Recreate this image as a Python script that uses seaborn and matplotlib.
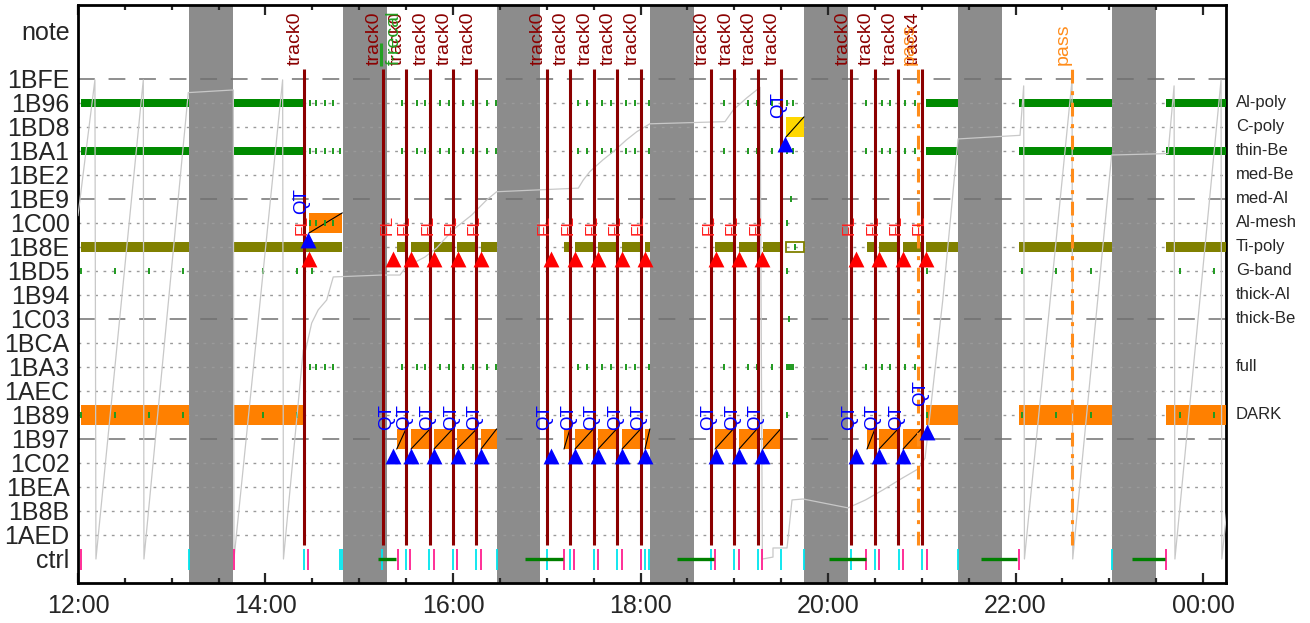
import numpy as np
import pandas as pd
import matplotlib
matplotlib.use("Agg")
import matplotlib.pyplot as plt
from matplotlib.patches import Rectangle
import seaborn as sns

# rows, bottom to top (note row sits above them)
rows = ["ctrl", "1AED", "1B8B", "1BEA", "1C02", "1B97", "1B89", "1AEC", "1BA3",
        "1BCA", "1C03", "1B94", "1BD5", "1B8E", "1C00", "1BE9", "1BE2", "1BA1",
        "1BD8", "1B96", "1BFE"]
filter_rows = ["1B96", "1BD8", "1BA1", "1BE2", "1BE9", "1C00", "1B8E", "1BD5",
               "1B94", "1C03", "1BA3", "1B89"]
filter_names = ["Al-poly", "C-poly", "thin-Be", "med-Be", "med-Al", "Al-mesh",
                "Ti-poly", "G-band", "thick-Al", "thick-Be", "full", "DARK"]

# time in hours
shadow_start = [13.184, 14.827, 16.470, 18.100, 19.744, 21.387, 23.030]
shadow_end = [13.650, 15.293, 16.933, 18.570, 20.210, 21.853, 23.496]

track_t = [14.41, 15.25, 15.50, 15.75, 16.00, 16.25, 17.00, 17.25, 17.50, 17.75,
           18.00, 18.75, 19.00, 19.25, 19.50, 20.25, 20.50, 20.75, 21.00]
track_lbl = ["track0"] * 18 + ["track4"]
pass_t = [20.955, 22.60]
recal_t = [15.237]

fl_t = [14.464, 15.363, 15.549, 15.800, 16.050, 16.300, 17.045, 17.300, 17.550,
        17.800, 18.048, 18.800, 19.050, 19.300, 20.297, 20.547, 20.798, 21.045]
qt_t = [14.456, 15.363, 15.549, 15.800, 16.050, 16.300, 17.045, 17.300, 17.550,
        17.800, 18.048, 18.800, 19.050, 19.300, 19.540, 20.297, 20.547, 20.798, 21.055]
qt_row = ["1B8E"] + ["1C02"] * 13 + ["1BA1"] + ["1C02"] * 3 + ["1B97"]

box_start = [14.464, 15.400, 15.552, 15.797, 16.043, 16.299, 17.184, 17.301, 17.547,
             17.803, 18.048, 18.795, 19.051, 19.303, 19.552, 20.416, 20.544, 20.800]
box_end = [14.820, 15.499, 15.755, 15.997, 16.253, 16.466, 17.248, 17.497, 17.746,
           18.002, 18.100, 18.990, 19.243, 19.495, 19.744, 20.501, 20.747, 20.996]
box_row = ["1C00"] + ["1B97"] * 13 + ["1BD8"] + ["1B97"] * 3
box_color = ["#ff8000"] * 14 + ["#ffd700"] + ["#ff8000"] * 3

dense_start = [12.03, 13.667, 21.05, 22.04, 23.61]
dense_end = [13.184, 14.42, 21.387, 23.03, 24.245]

ti_start = [12.03, 13.667, 15.400, 15.552, 15.797, 16.043, 16.299, 17.184, 17.301,
            17.547, 17.803, 18.048, 18.795, 19.051, 19.303, 20.416, 20.544, 20.800,
            21.05, 22.04, 23.61]
ti_end = [13.184, 14.82, 15.499, 15.755, 15.997, 16.253, 16.466, 17.248, 17.497,
          17.746, 18.002, 18.100, 18.990, 19.243, 19.495, 20.501, 20.747, 20.996,
          21.387, 23.03, 24.245]
ti_empty_start = [19.552]
ti_empty_end = [19.744]

sparse_t = [14.475, 14.54, 14.63, 14.716,
            15.452, 15.612, 15.70, 15.86, 15.96, 16.109, 16.21, 16.36, 16.455,
            17.337, 17.433, 17.586, 17.682, 17.842, 17.941, 18.094,
            18.894, 18.997, 19.15, 19.246, 19.40, 19.56, 19.63,
            20.405, 20.573, 20.661, 20.821, 20.928]
gband_t = [12.03, 12.395, 12.757, 13.12, 13.973, 14.336, 19.566,
           21.056, 22.07, 22.436, 22.80, 23.757, 24.113]
misc_t = [14.496, 14.80, 14.475, 14.54, 14.63, 14.716, 19.566, 19.605, 19.58,
          19.65, 19.58, 19.60]
misc_row = ["1BD5", "1BA1", "1C00", "1C00", "1C00", "1C00", "1C00", "1BE9", "1C03",
            "1B8E", "1BA3", "1BA3"]

ctrl_cyan = [13.184, 14.41, 14.795, 14.82, 15.246, 15.495, 15.744, 15.997, 16.245,
             16.466, 17.0, 17.248, 17.504, 17.746, 18.048, 18.094, 18.749, 18.997,
             19.25, 19.499, 19.744, 20.249, 20.505, 20.754, 21.0, 21.384, 23.026]
ctrl_pink = [12.032, 13.664, 14.457, 15.41, 15.541, 15.797, 16.04, 16.295, 17.188,
             17.294, 17.55, 17.8, 18.0, 18.795, 19.047, 19.3, 20.41, 20.547, 20.797,
             21.053, 22.034, 23.605]
ctrl_green_start = [15.203, 16.768, 18.389, 20.014, 21.632, 23.246]
ctrl_green_end = [15.389, 17.17, 18.781, 20.405, 22.013, 23.595]

# pointer trace (row units, 0 = ctrl, 20 = 1BFE)
ptr_t = [12.0, 12.181, 12.192, 12.697, 12.704, 13.177, 13.657, 13.664, 14.183, 14.192,
         14.403, 14.429, 14.493, 14.563, 14.653, 14.723, 15.24,
         15.435, 15.499, 15.701, 15.826, 16.0, 16.2, 16.36, 16.466,
         17.337, 17.39, 17.46, 17.60, 17.71, 17.85, 17.96, 18.10,
         18.901, 18.99, 19.13, 19.275, 19.30,
         19.413, 19.413, 19.563, 19.616, 19.733,
         20.213, 20.40, 20.587, 20.775, 20.96, 21.035,
         21.224, 21.387, 22.048, 22.087, 22.095,
         22.603, 22.61, 23.025, 23.627, 23.691, 23.70,
         24.192, 24.2, 24.252]
ptr_v = [14.3, 19.96, 0.0, 19.96, 0.0, 19.43, 19.54, 0.0, 19.96, 0.0,
         8.71, 8.71, 9.83, 10.38, 10.79, 11.75, 11.83,
         11.83, 12.17, 12.58, 12.96, 13.71, 14.33, 14.96, 15.3,
         15.45, 15.79, 16.14, 16.63, 16.97, 17.46, 17.8, 18.13,
         18.22, 18.71, 19.2, 19.65, 0.0,
         0.08, 0.46, 0.46, 2.46, 2.5,
         2.13, 2.46, 2.88, 3.33, 3.75, 4.2,
         10.79, 17.5, 17.65, 19.71, 0.0,
         19.96, 0.0, 16.83, 16.89, 19.71, 0.0,
         19.96, 0.0, 1.97]

sns.set_style("ticks")
plt.rcParams["font.family"] = ["Liberation Sans", "DejaVu Sans"]

DARKRED = "#8b0000"
GREEN = "#008a00"
y = {r: i for i, r in enumerate(rows)}
note_y = len(rows) + 1

fig = plt.figure(figsize=(13.1, 6.23), dpi=100)
ax = fig.add_axes([0.0595, 0.0642, 0.8764, 0.9278])

# shaded bands
for s, e in zip(shadow_start, shadow_end):
    ax.axvspan(s, e, color="#8c8c8c", lw=0, zorder=0)

# row grid
for i in range(1, len(rows)):
    if i % 5 == 0:
        ax.axhline(i, color="#707070", lw=1.1, dashes=(11, 9), zorder=1)
    else:
        ax.axhline(i, color="#9a9a9a", lw=1.0, dashes=(2, 4), zorder=1)


def bars(row, starts, ends, h, color):
    spans = [(s, e - s) for s, e in zip(starts, ends)]
    ax.broken_barh(spans, (y[row] - h / 2, h), facecolors=color, lw=0, zorder=3)


bars("1B96", dense_start, dense_end, 0.32, GREEN)
bars("1BA1", dense_start, dense_end, 0.32, GREEN)
bars("1B89", dense_start, dense_end, 0.83, "#ff8000")
bars("1B8E", ti_start, ti_end, 0.42, "#808000")
for s, e in zip(ti_empty_start, ti_empty_end):
    ax.add_patch(Rectangle((s, y["1B8E"] - 0.21), e - s, 0.42, fill=False,
                           edgecolor="#808000", lw=1.3, zorder=3))

# calibration boxes with diagonal
for s, e, r, c in zip(box_start, box_end, box_row, box_color):
    b = y[r] - 0.42
    ax.add_patch(Rectangle((s, b), e - s, 0.84, facecolor=c, lw=0, zorder=3))
    ax.plot([s, e], [b, b + 0.84], color="black", lw=0.8, zorder=3.2)

# sparse filter ticks
tk = dict(marker="|", s=22, linewidth=1.4, color="#1f9a1f", ax=ax, zorder=3.5, legend=False)
for r in ["1B96", "1BA1", "1BA3"]:
    sns.scatterplot(x=sparse_t, y=[y[r]] * len(sparse_t), **tk)
for r in ["1BD5", "1B89"]:
    sns.scatterplot(x=gband_t, y=[y[r]] * len(gband_t), **tk)
sns.scatterplot(x=misc_t, y=[y[r] for r in misc_row], **tk)

# pointer trace
sns.lineplot(x=ptr_t, y=ptr_v, sort=False, estimator=None, color="#c8c8c8",
             lw=0.9, ax=ax, zorder=4)

# ctrl row
ax.vlines(ctrl_cyan, -0.45, 0.4, color="#00e5ee", lw=1.3, zorder=4)
ax.vlines(ctrl_pink, -0.45, 0.4, color="#ff1f8f", lw=1.3, zorder=4)
ax.hlines([0] * len(ctrl_green_start), ctrl_green_start, ctrl_green_end,
          color="#008000", lw=2.4, zorder=4)

# track / pass lines with note labels
ax.vlines(track_t, 0.58, 20.42, color=DARKRED, lw=2.2, zorder=5)
for t, lbl in zip(track_t, track_lbl):
    ax.text(t, 20.58, lbl, rotation=90, ha="right", va="bottom", color=DARKRED,
            fontsize=14, zorder=7)
ax.vlines(pass_t, 0.58, 20.42, color="#ff8c1a", lw=2.2,
          linestyles=[(0, (4.5, 2.5, 1.3, 2.5))], zorder=5.5)
for t in pass_t:
    ax.text(t, 20.58, "pass", rotation=90, ha="right", va="bottom", color="#ff8c1a",
            fontsize=14, zorder=7)
ax.vlines(recal_t, 20.54, 21.5, color="#22a022", lw=2.2, zorder=5)
for t in recal_t:
    ax.annotate("f-recal", (t, 20.58), xytext=(3, 0), textcoords="offset points",
                rotation=90, ha="left", va="bottom", color="#22a022", fontsize=14, zorder=7)

# markers and their labels
sns.scatterplot(x=fl_t, y=[y["1BD5"] + 0.5] * len(fl_t), marker="^", s=130,
                color="#ff0000", linewidth=0, ax=ax, zorder=6, legend=False)
sns.scatterplot(x=qt_t, y=[y[r] + 0.3 for r in qt_row], marker="^", s=130,
                color="#0000ff", linewidth=0, ax=ax, zorder=6, legend=False)
for t in fl_t:
    ax.annotate("FL", (t, y["1BD5"] + 1.9), xytext=(-4.7, 0), textcoords="offset points",
                rotation=90, ha="center", va="center", fontsize=12.5, color="#ff2020",
                zorder=7)
for t, r in zip(qt_t, qt_row):
    ax.annotate("QT", (t, y[r] + 1.9), xytext=(-4.7, 0), textcoords="offset points",
                rotation=90, ha="center", va="center", fontsize=13.5, color="#0000ff", zorder=7)

# right-hand filter names
for r, name in zip(filter_rows, filter_names):
    ax.annotate(name, (1, y[r]), xycoords=("axes fraction", "data"), xytext=(7, 0),
                textcoords="offset points", ha="left", va="center", fontsize=12)

ax.set_xlim(12, 24.245)
ax.set_ylim(-1, 23.08)
ax.set_yticks(list(range(len(rows))) + [note_y])
ax.set_yticklabels(rows + ["note"], fontsize=18)
major = np.arange(12, 25, 2)
ax.set_xticks(major)
ax.set_xticklabels([f"{int(h) % 24:02d}:00" for h in major], fontsize=18)
ax.set_xticks(np.arange(12, 24.3, 0.5), minor=True)
ax.tick_params(axis="y", length=0, pad=6)
ax.tick_params(axis="x", which="both", direction="in", top=True, width=1.6, pad=8)
ax.tick_params(axis="x", which="major", length=7)
ax.tick_params(axis="x", which="minor", length=3.5)
ax.set_xlabel("")
ax.set_ylabel("")
for sp in ax.spines.values():
    sp.set_visible(True)
    sp.set_linewidth(2)
    sp.set_color("black")

fig.savefig("out.png", dpi=100)
